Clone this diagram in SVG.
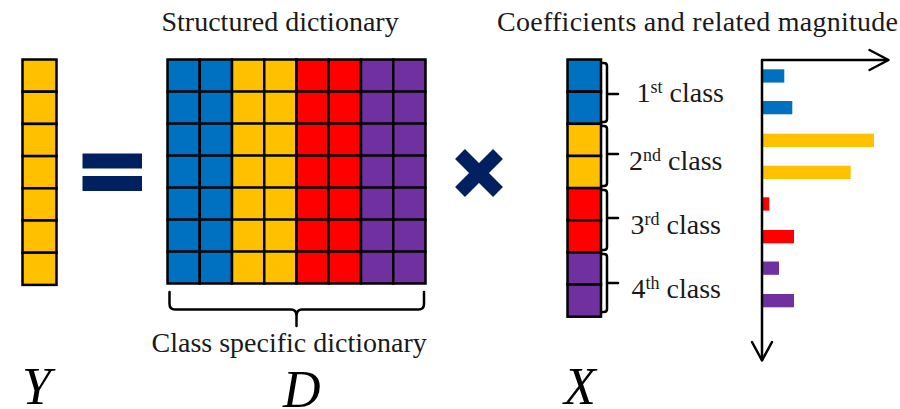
<svg xmlns="http://www.w3.org/2000/svg" width="900" height="409" viewBox="0 0 900 409">
<style>
.b{fill:#0070C0}.y{fill:#FFC000}.r{fill:#FF0000}.p{fill:#7030A0}
.cell{stroke:#000;stroke-width:2.5}
.ln{fill:none;stroke:#000;stroke-width:2.5;stroke-linecap:round;stroke-linejoin:round}
.t{font-family:'Liberation Serif','Times New Roman',Times,'DejaVu Serif',serif;font-size:28px;fill:#1a1a1a}
.big{font-family:'Liberation Serif','Times New Roman',Times,'DejaVu Serif',serif;font-size:52px;font-style:italic;fill:#000}
.navy{fill:#002060}
</style>
<rect width="900" height="409" fill="#fff"/>
<g id="titles">
<text class="t" x="161.5" y="31">Structured dictionary</text>
<text class="t" x="497" y="31" textLength="401" lengthAdjust="spacing">Coefficients and related magnitude</text>
</g>
<g id="Y">
<rect class="cell y" x="22.5" y="59.5" width="34" height="32.2"/>
<rect class="cell y" x="22.5" y="91.7" width="34" height="32.2"/>
<rect class="cell y" x="22.5" y="123.9" width="34" height="32.2"/>
<rect class="cell y" x="22.5" y="156.1" width="34" height="32.2"/>
<rect class="cell y" x="22.5" y="188.3" width="34" height="32.2"/>
<rect class="cell y" x="22.5" y="220.5" width="34" height="32.2"/>
<rect class="cell y" x="22.5" y="252.7" width="34" height="32.2"/>
<text class="big" x="22" y="404">Y</text>
</g>
<g id="equals">
<rect class="navy" x="82.5" y="153.5" width="59.5" height="15"/>
<rect class="navy" x="82.5" y="176" width="59.5" height="15"/>
</g>
<g id="D">
<g class="cell">
<rect class="b" x="167.5" y="59.5" width="32.25" height="224"/>
<rect class="b" x="199.75" y="59.5" width="32.25" height="224"/>
<rect class="y" x="232" y="59.5" width="32.25" height="224"/>
<rect class="y" x="264.25" y="59.5" width="32.25" height="224"/>
<rect class="r" x="296.5" y="59.5" width="32.25" height="224"/>
<rect class="r" x="328.75" y="59.5" width="32.25" height="224"/>
<rect class="p" x="361" y="59.5" width="32.25" height="224"/>
<rect class="p" x="393.25" y="59.5" width="32.25" height="224"/>
</g>
<path class="ln" d="M167.5,91.5H425.5M167.5,123.5H425.5M167.5,155.5H425.5M167.5,187.5H425.5M167.5,219.5H425.5M167.5,251.5H425.5"/>
<path class="ln" d="M169.5,292V304Q169.5,309.5 175,309.5H291Q296.5,309.5 296.5,316V326M296.5,316Q296.5,309.5 302,309.5H418.5Q424,309.5 424,304V292"/>
<text class="t" x="151.5" y="351.5">Class specific dictionary</text>
<text class="big" x="283" y="407">D</text>
</g>
<g id="times">
<path d="M460,154L498,192M498,154L460,192" stroke="#002060" stroke-width="14" fill="none"/>
</g>
<g id="X">
<rect class="cell b" x="567.5" y="59.5" width="33.5" height="32.15"/>
<rect class="cell b" x="567.5" y="91.65" width="33.5" height="32.15"/>
<rect class="cell y" x="567.5" y="123.8" width="33.5" height="32.15"/>
<rect class="cell y" x="567.5" y="155.95" width="33.5" height="32.15"/>
<rect class="cell r" x="567.5" y="188.1" width="33.5" height="32.15"/>
<rect class="cell r" x="567.5" y="220.25" width="33.5" height="32.15"/>
<rect class="cell p" x="567.5" y="252.4" width="33.5" height="32.15"/>
<rect class="cell p" x="567.5" y="284.55" width="33.5" height="32.15"/>
<text class="big" x="564" y="404">X</text>
</g>
<g id="class-braces">
<path class="ln" d="M602,63H604Q607,63 607,66V119Q607,122 604,122H602M607,94H618"/>
<path class="ln" d="M602,126H604Q607,126 607,129V183Q607,186 604,186H602M607,154H618"/>
<path class="ln" d="M602,190H604Q607,190 607,193V247Q607,250 604,250H602M607,218H618"/>
<path class="ln" d="M602,254H604Q607,254 607,257V309Q607,312 604,312H602M607,283H618"/>
</g>
<g id="class-labels" class="t">
<text x="636.5" y="101.7">1<tspan font-size="18" dy="-9">st</tspan><tspan dy="9"> class</tspan></text>
<text x="629" y="170">2<tspan font-size="18" dy="-9">nd</tspan><tspan dy="9"> class</tspan></text>
<text x="630.5" y="234.3">3<tspan font-size="18" dy="-9">rd</tspan><tspan dy="9"> class</tspan></text>
<text x="631.5" y="298.3">4<tspan font-size="18" dy="-9">th</tspan><tspan dy="9"> class</tspan></text>
</g>
<g id="bars">
<rect class="b" x="762" y="69.3" width="22.3" height="13.3"/>
<rect class="b" x="762" y="101" width="30.3" height="13.3"/>
<rect class="y" x="762" y="133.7" width="112" height="13.3"/>
<rect class="y" x="762" y="165.7" width="88.7" height="13.3"/>
<rect class="r" x="762" y="197.3" width="7.3" height="13.3"/>
<rect class="r" x="762" y="230" width="32" height="13.3"/>
<rect class="p" x="762" y="261.5" width="17" height="13.3"/>
<rect class="p" x="762" y="294" width="32" height="13.3"/>
</g>
<g id="axes">
<path class="ln" d="M762,360V60H888"/>
<path class="ln" d="M869.5,50L888.5,60L869.5,70"/>
<path class="ln" d="M752,342L762,360.5L772,342"/>
</g>
</svg>
